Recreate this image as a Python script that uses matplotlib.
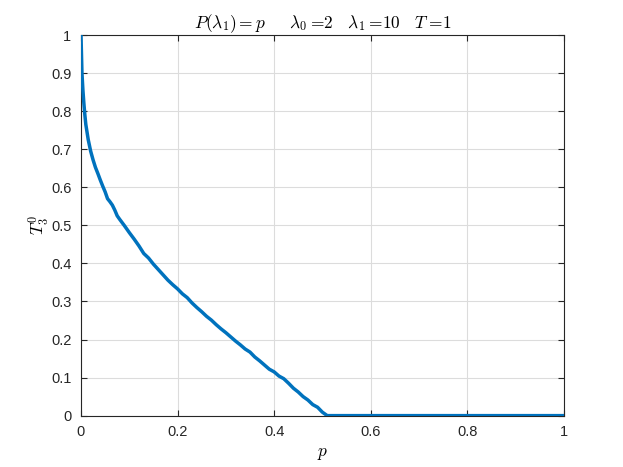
import numpy as np
import matplotlib.pyplot as plt

# curve: T_3^0 against p
p = [0.0, 0.002, 0.004, 0.006, 0.008, 0.01, 0.015, 0.02, 0.025, 0.03,
     0.035, 0.04, 0.045, 0.05, 0.055, 0.06, 0.065, 0.07, 0.075, 0.08,
     0.09, 0.10, 0.11, 0.12, 0.13, 0.14, 0.15, 0.16, 0.17, 0.18,
     0.19, 0.20, 0.21, 0.22, 0.23, 0.24, 0.25, 0.26, 0.27, 0.28,
     0.29, 0.30, 0.31, 0.32, 0.33, 0.34, 0.35, 0.36, 0.37, 0.38,
     0.39, 0.40, 0.41, 0.42, 0.43, 0.44, 0.45, 0.46, 0.47, 0.48,
     0.49, 0.50, 0.51, 1.0]
T30 = [1.0, 0.90, 0.855, 0.82, 0.79, 0.765, 0.725, 0.695, 0.672, 0.652,
       0.636, 0.619, 0.603, 0.588, 0.570, 0.562, 0.553, 0.540, 0.525, 0.516,
       0.499, 0.481, 0.464, 0.446, 0.426, 0.414, 0.398, 0.384, 0.370, 0.356,
       0.344, 0.333, 0.320, 0.310, 0.296, 0.284, 0.273, 0.261, 0.251, 0.239,
       0.228, 0.218, 0.207, 0.196, 0.186, 0.175, 0.167, 0.154, 0.144, 0.133,
       0.122, 0.115, 0.104, 0.097, 0.085, 0.072, 0.062, 0.050, 0.041, 0.029,
       0.022, 0.009, 0.0, 0.0]

x_ticks = [0, 0.2, 0.4, 0.6, 0.8, 1]
x_tick_labels = ["0", "0.2", "0.4", "0.6", "0.8", "1"]
y_ticks = [0, 0.1, 0.2, 0.3, 0.4, 0.5, 0.6, 0.7, 0.8, 0.9, 1]
y_tick_labels = ["0", "0.1", "0.2", "0.3", "0.4", "0.5", "0.6", "0.7", "0.8", "0.9", "1"]

plt.rcParams["font.family"] = ["Liberation Sans", "DejaVu Sans"]
plt.rcParams["mathtext.fontset"] = "cm"

AX_COL = "#262626"

fig = plt.figure(figsize=(6.23, 4.67), dpi=100)
ax = fig.add_axes([0.13, 0.11, 0.775, 0.815])

ax.plot(p, T30, color="#0072BD", linewidth=2.5, solid_joinstyle="round", zorder=3)

ax.set_xlim(0, 1)
ax.set_ylim(0, 1)
ax.set_xticks(x_ticks)
ax.set_xticklabels(x_tick_labels)
ax.set_yticks(y_ticks)
ax.set_yticklabels(y_tick_labels)

ax.grid(True, color="#dcdcdc", linewidth=0.8)
ax.set_axisbelow(True)
for s in ax.spines.values():
    s.set_color(AX_COL)
    s.set_linewidth(0.8)
ax.tick_params(direction="in", length=4, width=0.8, colors=AX_COL,
               labelsize=10.5, top=True, right=True, pad=7)

ax.set_title(r"$P(\lambda_1) = p \quad\ \ \lambda_0 = \!2 \quad \lambda_1 = \!10 \quad T = \!1$",
             fontsize=12.5, pad=5)
ax.set_xlabel(r"$p$", fontsize=12.5, labelpad=5)
ax.set_ylabel(r"$T_3^0$", fontsize=12.5, labelpad=0)

fig.savefig("out.png", dpi=100)
